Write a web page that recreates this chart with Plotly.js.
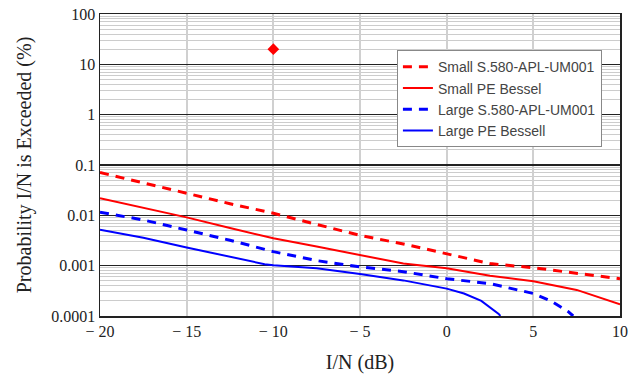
<!DOCTYPE html>
<html>
<head>
<meta charset="utf-8">
<script src="https://cdn.plot.ly/plotly-3.0.1.min.js"></script>
<style>html,body{margin:0;padding:0;background:#fff;}#chart{width:642px;height:386px;}</style>
</head>
<body>
<div id="chart"></div>
<script>
// I/N (dB) sample points and probability (%)
var xSmallApl = [-20, -17.5, -15, -12.5, -10, -7.5, -5, -2.5, 0, 2.5, 5, 7.5, 10];
var ySmallApl = [0.0708, 0.0447, 0.0275, 0.0170, 0.0110, 0.0066, 0.0040, 0.0027, 0.0017, 0.0011, 0.00091, 0.00071, 0.00055];

var xSmallPe = [-20, -17.5, -15, -12.5, -10, -7.5, -5, -2.5, 0, 2.5, 5, 7.5, 10];
var ySmallPe = [0.0219, 0.0141, 0.0091, 0.0056, 0.0035, 0.0024, 0.0016, 0.0011, 0.00089, 0.00063, 0.00049, 0.00033, 0.00017];

var xLargeApl = [-20, -17.5, -15, -12.5, -10, -7.5, -5, -2.5, 0, 2.5, 5, 6, 7, 7.3];
var yLargeApl = [0.0115, 0.0081, 0.0051, 0.0032, 0.0019, 0.00126, 0.00095, 0.00076, 0.00055, 0.00044, 0.00028, 0.0002, 0.000123, 0.0001];

var xLargePe = [-20, -17.5, -15, -12.5, -10.5, -10, -7.5, -5, -2.5, 0, 1, 2, 2.5, 3, 3.1];
var yLargePe = [0.0052, 0.0036, 0.0023, 0.0015, 0.00107, 0.00102, 0.00089, 0.00068, 0.00051, 0.00035, 0.00028, 0.0002, 0.00015, 0.00011, 0.0001];

var xPoint = [-10];
var yPoint = [20];

var xTickVals = [-20, -15, -10, -5, 0, 5, 10];
var xTickText = ['\u2212 20', '\u2212 15', '\u2212 10', '\u2212 5', '0', '5', '10'];
var yTickVals = [0.0001, 0.001, 0.01, 0.1, 1, 10, 100];
var yTickText = ['0.0001', '0.001', '0.01', '0.1', '1', '10', '100'];

var seriesNames = ['Small S.580-APL-UM001', 'Small PE Bessel', 'Large S.580-APL-UM001', 'Large PE Bessell'];

// minor grid positions (2..9 within each decade)
var yMinor = [];
for (var e = -4; e < 2; e++) {
  for (var m = 2; m <= 9; m++) yMinor.push(m * Math.pow(10, e));
}

var dashPat = '9px,7px';
var traces = [
  {x: xSmallApl, y: ySmallApl, name: seriesNames[0], mode: 'lines', line: {color: '#ff0000', width: 3, dash: dashPat}},
  {x: xSmallPe, y: ySmallPe, name: seriesNames[1], mode: 'lines', line: {color: '#ff0000', width: 2}},
  {x: xLargeApl, y: yLargeApl, name: seriesNames[2], mode: 'lines', line: {color: '#0000ff', width: 3, dash: dashPat}},
  {x: xLargePe, y: yLargePe, name: seriesNames[3], mode: 'lines', line: {color: '#0000ff', width: 2}},
  {x: xPoint, y: yPoint, mode: 'markers', showlegend: false, marker: {symbol: 'diamond', color: '#ff0000', size: 9}}
];

var serif = 'Liberation Serif, Times New Roman, serif';
var layout = {
  width: 642, height: 386,
  margin: {l: 100, r: 22, t: 14, b: 70},
  paper_bgcolor: '#ffffff', plot_bgcolor: '#ffffff',
  showlegend: true,
  legend: {
    x: 0.571, y: 0.88, xanchor: 'left', yanchor: 'top',
    bgcolor: '#ffffff', bordercolor: '#888888', borderwidth: 1,
    font: {family: 'Liberation Sans, Arial, sans-serif', size: 14, color: '#444444'},
    tracegroupgap: 0
  },
  xaxis: {
    range: [-20, 10],
    tickmode: 'array', tickvals: xTickVals, ticktext: xTickText,
    ticks: '', showgrid: true, gridcolor: '#d0d0d0', gridwidth: 2,
    showline: true, linecolor: '#222222', linewidth: 1.5, mirror: true,
    zeroline: false,
    tickfont: {family: serif, size: 16, color: '#222222'},
    title: {text: 'I/N (dB)', font: {family: serif, size: 20, color: '#222222'}, standoff: 16}
  },
  yaxis: {
    type: 'log', range: [-4, 2],
    tickmode: 'array', tickvals: yTickVals, ticktext: yTickText,
    ticks: '', showgrid: true, gridcolor: '#222222', gridwidth: 1.3,
    minor: {tickmode: 'array', tickvals: yMinor, showgrid: true, gridcolor: '#cccccc', gridwidth: 1, ticks: ''},
    showline: true, linecolor: '#222222', linewidth: 1.5, mirror: true,
    zeroline: false,
    tickfont: {family: serif, size: 16, color: '#222222'},
    title: {text: 'Probability I/N is Exceeded (%)', font: {family: serif, size: 20, color: '#222222'}, standoff: 14}
  }
};

Plotly.newPlot('chart', traces, layout, {displayModeBar: false, staticPlot: true});
</script>
</body>
</html>
